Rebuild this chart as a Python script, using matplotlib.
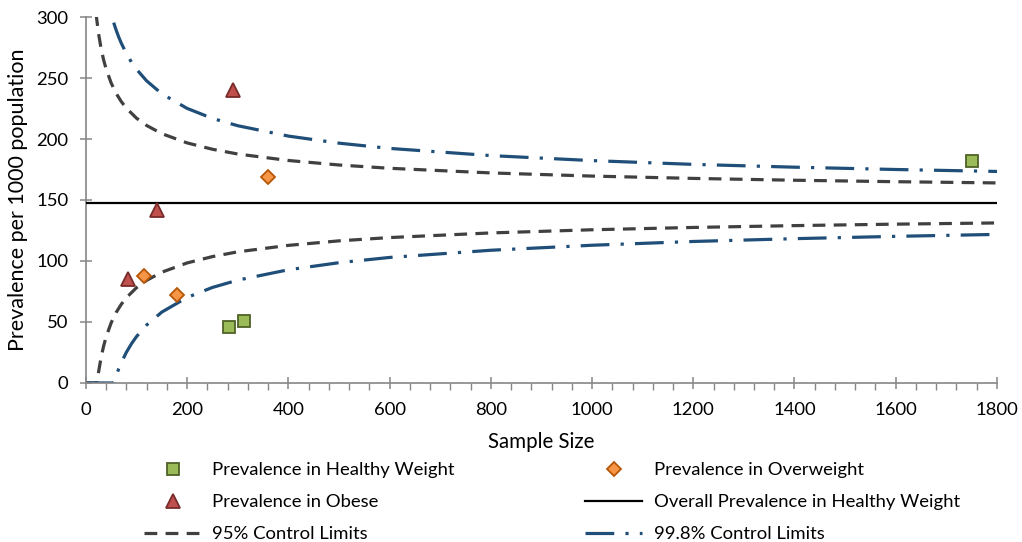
import numpy as np
import matplotlib.pyplot as plt

plt.rcParams['font.family'] = ['Lato', 'DejaVu Sans']

# observed groups: (sample size, prevalence per 1000)
healthy_n = [283, 313, 1751]
healthy_p = [46, 51, 182]
overweight_n = [115, 180, 360]
overweight_p = [87.5, 72.5, 169]
obese_n = [84, 140, 290]
obese_p = [85, 142, 240]

overall_p = 147.6

# control limit curves
up95_n = [20, 25, 30, 35, 40, 50, 60, 70, 80, 100, 120, 150, 200, 250, 300,
          400, 500, 600, 800, 1000, 1200, 1400, 1600, 1800]
up95_v = [303.1, 286.6, 274.5, 265.0, 257.5, 245.9, 237.3, 230.7, 225.3, 217.1,
          211.1, 204.4, 196.8, 191.6, 187.7, 182.4, 178.7, 176.0, 172.2, 169.6,
          167.7, 166.2, 165.0, 164.0]
lo95_n = [0, 22, 25, 30, 35, 40, 50, 60, 70, 80, 100, 120, 150, 200, 250, 300,
          400, 500, 600, 800, 1000, 1200, 1400, 1600, 1800]
lo95_v = [0, 0, 8.6, 20.7, 30.1, 37.7, 49.3, 57.9, 64.5, 69.9, 78.1, 84.1, 90.8,
          98.4, 103.6, 107.5, 112.8, 116.5, 119.2, 123.0, 125.6, 127.5, 129.0,
          130.2, 131.2]
up998_n = [55, 60, 65, 70, 80, 90, 100, 120, 150, 200, 250, 300, 400, 500, 600,
           800, 1000, 1200, 1400, 1600, 1800]
up998_v = [295.4, 289.1, 283.5, 278.6, 270.1, 263.1, 257.2, 247.7, 237.1, 225.1,
           216.9, 210.9, 202.4, 196.6, 192.3, 186.4, 182.3, 179.2, 176.9, 175.0,
           173.4]
lo998_n = [0, 55, 60, 65, 70, 80, 90, 100, 120, 150, 200, 250, 300, 400, 500,
           600, 800, 1000, 1200, 1400, 1600, 1800]
lo998_v = [0, 0, 6.1, 11.7, 16.6, 25.1, 32.1, 38.0, 47.5, 58.1, 70.1, 78.3, 84.3,
           92.8, 98.6, 102.9, 108.8, 112.9, 116.0, 118.3, 120.2, 121.8]

fig = plt.figure(figsize=(10.22, 5.42), dpi=100)
ax = fig.add_axes([0.084, 0.2934, 0.8915, 0.6752])

dash_col = '#404040'
blue = '#1F4E79'

h_hw, = ax.plot(healthy_n, healthy_p, 's', ms=8.5, mfc='#9BBB59', mec='#4F6228',
                mew=1.3, ls='none', zorder=5, label='Prevalence in Healthy Weight')
h_ov, = ax.plot(overweight_n, overweight_p, 'D', ms=7.5, mfc='#F79646', mec='#B65708',
                mew=1.3, ls='none', zorder=5, label='Prevalence in Overweight')
h_ob, = ax.plot(obese_n, obese_p, '^', ms=9.5, mfc='#C0504D', mec='#772C2A',
                mew=1.3, ls='none', zorder=5, label='Prevalence in Obese')
h_all = ax.axhline(overall_p, color='black', lw=1.6, zorder=3,
                   label='Overall Prevalence in Healthy Weight')

h_95, = ax.plot(up95_n, up95_v, color=dash_col, lw=2.3, dashes=(4, 2.6),
                label='95% Control Limits')
ax.plot(lo95_n, lo95_v, color=dash_col, lw=2.3, dashes=(4, 2.6))
h_998, = ax.plot(up998_n, up998_v, color=blue, lw=2.3, dashes=(9, 3.5, 1, 3.5),
                 label='99.8% Control Limits')
ax.plot(lo998_n, lo998_v, color=blue, lw=2.3, dashes=(9, 3.5, 1, 3.5))

ax.set_xlim(0, 1800)
ax.set_ylim(0, 300)
ax.set_xticks(np.arange(0, 1801, 200))
ax.set_xticks(np.arange(0, 1801, 40), minor=True)
ax.set_yticks(np.arange(0, 301, 50))

for s in ['top', 'right']:
    ax.spines[s].set_visible(False)
for s in ['left', 'bottom']:
    ax.spines[s].set_color('#868686')
    ax.spines[s].set_linewidth(1.2)

ax.tick_params(axis='both', which='major', direction='inout', length=9,
               width=1.1, color='#868686', labelsize=13.3)
ax.tick_params(axis='x', which='major', pad=9)
ax.tick_params(axis='y', which='major', pad=8)
ax.tick_params(axis='x', which='minor', direction='out', length=5,
               width=1.0, color='#868686')

ax.set_xlabel('Sample Size', fontsize=14.8, labelpad=10)
ax.set_ylabel('Prevalence per 1000 population', fontsize=15.5, labelpad=6)

handles = [h_hw, h_ob, h_95, h_ov, h_all, h_998]
fig.legend(handles=handles, labels=[h.get_label() for h in handles],
           ncol=2, loc='upper left', bbox_to_anchor=(0.141, 0.147),
           frameon=False, fontsize=13.3, handlelength=3.1, handletextpad=0.6,
           columnspacing=7.05, labelspacing=0.86, borderpad=0, borderaxespad=0)

fig.savefig('out.png', dpi=100)
